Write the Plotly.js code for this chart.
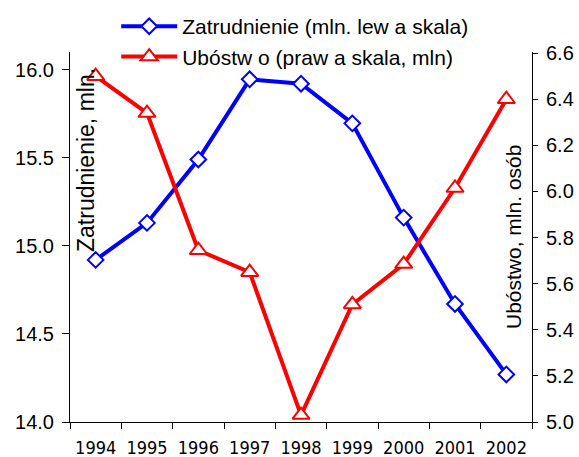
<!DOCTYPE html>
<html>
<head>
<meta charset="utf-8">
<script src="https://cdn.plot.ly/plotly-3.0.1.min.js"></script>
<style>
  body { margin: 0; background: #fff; }
  #chart { width: 579px; height: 457px; }
</style>
</head>
<body>
<div id="chart"></div>
<script>
const years = ['1994', '1995', '1996', '1997', '1998', '1999', '2000', '2001', '2002']
// employment, mln (left axis)
const employment = [14.92, 15.13, 15.49, 15.945, 15.92, 15.695, 15.16, 14.67, 14.27]
// poverty, mln people (right axis)
const poverty = [6.50, 6.34, 5.745, 5.65, 5.03, 5.51, 5.685, 6.015, 6.40]

const seriesNames = ['Zatrudnienie (mln. lew a skala)', 'Ubóstw o (praw a skala, mln)']
const leftTitle = 'Zatrudnienie, mln.'
const rightTitle = 'Ubóstwo, mln. osób'

const font = 'Liberation Sans, Arial, sans-serif'
const narrowFont = 'Liberation Sans Narrow, Arial Narrow, DejaVu Sans Condensed, sans-serif'

const leftRange = [14, 16.1]
const rightRange = [5, 6.605]

const traces = [
    {
        x: years,
        y: employment,
        name: seriesNames[0],
        type: 'scatter',
        mode: 'lines+markers',
        yaxis: 'y',
        line: {color: '#0000ff', width: 4},
        marker: {symbol: 'diamond', size: 12, color: '#ffffff', line: {color: '#0000ff', width: 2}}
    },
    {
        x: years,
        y: poverty,
        name: seriesNames[1],
        type: 'scatter',
        mode: 'lines+markers',
        yaxis: 'y2',
        line: {color: '#ff0000', width: 4},
        marker: {symbol: 'triangle-up', size: 15, color: '#ffffff', line: {color: '#ff0000', width: 2}}
    }
]

const axisCommon = {
    showgrid: false,
    zeroline: false,
    showline: true,
    linecolor: '#000',
    linewidth: 1,
    ticks: 'outside',
    tickcolor: '#000',
    tickwidth: 1,
    automargin: false
}

// inner half of the "cross" tick marks
const innerTicks = {
    showgrid: false,
    zeroline: false,
    showline: false,
    showticklabels: false,
    ticks: 'inside',
    ticklen: 4,
    tickcolor: '#000',
    tickwidth: 1,
    automargin: false,
    fixedrange: true
}

const layout = {
    width: 579,
    height: 457,
    margin: {l: 70, r: 47, t: 52, b: 35, autoexpand: false},
    paper_bgcolor: '#fff',
    plot_bgcolor: '#fff',
    font: {family: font, color: '#000', size: 20},
    showlegend: true,
    legend: {
        x: 0.1, y: 1.124, xanchor: 'left', yanchor: 'top',
        font: {family: font, size: 21, color: '#000'},
        itemwidth: 56,
        bgcolor: 'rgba(0,0,0,0)'
    },
    xaxis: Object.assign({}, axisCommon, {
        type: 'category',
        range: [-0.5, 8.5],
        tickson: 'boundaries',
        tickangle: 0,
        ticklen: 6,
        ticklabelstandoff: 9,
        tickfont: {family: narrowFont, size: 18, color: '#000'}
    }),
    yaxis: Object.assign({}, axisCommon, {
        range: leftRange,
        tick0: 14,
        dtick: 0.5,
        tickformat: '.1f',
        ticklen: 7,
        ticklabelstandoff: 4,
        tickfont: {family: font, size: 20, color: '#000'}
    }),
    yaxis2: Object.assign({}, axisCommon, {
        overlaying: 'y',
        side: 'right',
        range: rightRange,
        tick0: 5,
        dtick: 0.2,
        tickformat: '.1f',
        ticklen: 5,
        ticklabelstandoff: 4,
        tickfont: {family: font, size: 20, color: '#000'}
    }),
    xaxis2: Object.assign({}, innerTicks, {
        overlaying: 'x', anchor: 'y',
        range: [-0.5, 8.5], tick0: -0.5, dtick: 1
    }),
    yaxis3: Object.assign({}, innerTicks, {
        overlaying: 'y', anchor: 'x', side: 'left',
        range: leftRange, tick0: 14, dtick: 0.5
    }),
    yaxis4: Object.assign({}, innerTicks, {
        overlaying: 'y', anchor: 'x', side: 'right',
        range: rightRange, tick0: 5, dtick: 0.2
    }),
    annotations: [
        {
            text: leftTitle, xref: 'paper', yref: 'paper',
            x: (86 - 70) / 462, y: (422 - 160) / 370,
            xanchor: 'center', yanchor: 'middle',
            textangle: -90, showarrow: false,
            font: {family: font, size: 23, color: '#000'}
        },
        {
            text: rightTitle, xref: 'paper', yref: 'paper',
            x: (513 - 70) / 462, y: (422 - 237) / 370,
            xanchor: 'center', yanchor: 'middle',
            textangle: -90, showarrow: false,
            font: {family: font, size: 21, color: '#000'}
        }
    ]
}

Plotly.newPlot('chart', traces, layout, {staticPlot: true})
</script>
</body>
</html>
